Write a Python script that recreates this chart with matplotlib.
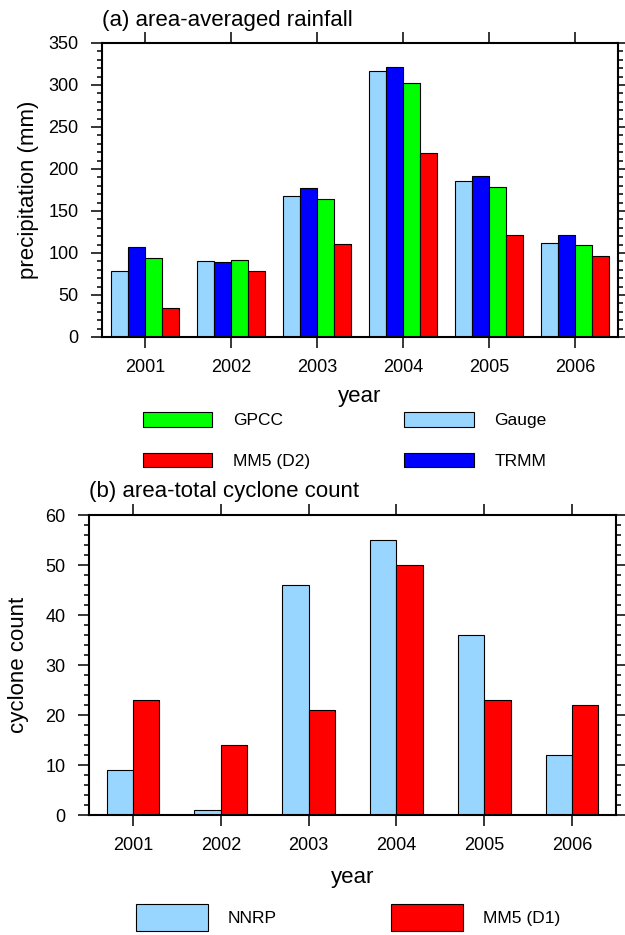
import numpy as np
import matplotlib
matplotlib.use("Agg")
import matplotlib.pyplot as plt
from matplotlib.ticker import MultipleLocator

plt.rcParams['font.family'] = ['Liberation Sans', 'DejaVu Sans']

years = ['2001', '2002', '2003', '2004', '2005', '2006']

# (a) area-averaged rainfall (mm)
gauge = [79, 90, 168, 317, 186, 112]
trmm = [107, 89, 177, 322, 192, 121]
gpcc = [94, 92, 164, 302, 178, 110]
mm5_d2 = [34, 78, 111, 219, 121, 96]

# (b) area-total cyclone count
nnrp = [9, 1, 46, 55, 36, 12]
mm5_d1 = [23, 14, 21, 50, 23, 22]

c_lblue = '#99D6FF'
c_blue = '#0000FF'
c_green = '#00FF00'
c_red = '#FF0000'

W, H = 625, 935
fig = plt.figure(figsize=(W / 100, H / 100), dpi=100)


def px_axes(l, t, r, b):
    return fig.add_axes([l / W, 1 - b / H, (r - l) / W, (b - t) / H])


def style_axes(ax, ymax, major, minor):
    ax.set_xlim(0.5, 6.5)
    ax.set_ylim(0, ymax)
    ax.set_xticks(np.arange(1, 7))
    ax.set_xticklabels(years)
    ax.yaxis.set_major_locator(MultipleLocator(major))
    ax.yaxis.set_minor_locator(MultipleLocator(minor))
    ax.tick_params(which='both', direction='out', top=True, right=True,
                   labelsize=13, width=1.1)
    ax.tick_params(which='major', length=8)
    ax.tick_params(which='minor', length=3.5)
    ax.tick_params(axis='x', which='minor', bottom=False, top=False)
    ax.tick_params(axis='x', pad=7.5)
    ax.tick_params(axis='y', pad=9)
    for s in ax.spines.values():
        s.set_linewidth(1.5)


x = np.arange(1, 7)
edge = dict(edgecolor='black', linewidth=0.8)

# ---- panel (a)
ax1 = px_axes(102, 43, 618, 337)
bw = 0.2
b_gauge = ax1.bar(x - 0.3, gauge, bw, color=c_lblue, label='Gauge', **edge)
b_trmm = ax1.bar(x - 0.1, trmm, bw, color=c_blue, label='TRMM', **edge)
b_gpcc = ax1.bar(x + 0.1, gpcc, bw, color=c_green, label='GPCC', **edge)
b_mm5 = ax1.bar(x + 0.3, mm5_d2, bw, color=c_red, label='MM5 (D2)', **edge)
style_axes(ax1, 350, 50, 10)
ax1.set_ylabel('precipitation (mm)', fontsize=16, va='center')
ax1.yaxis.set_label_coords(-(102 - 28) / 516, 0.5)
ax1.set_xlabel('year', fontsize=16, va='center')
ax1.xaxis.set_label_coords(0.5, -(397 - 337) / 294)
ax1.text(0, 1 + 22 / 294, '(a) area-averaged rainfall', transform=ax1.transAxes,
         fontsize=16, ha='left', va='center')

fig.legend([b_gpcc, b_mm5, b_gauge, b_trmm],
           ['GPCC', 'MM5 (D2)', 'Gauge', 'TRMM'],
           ncol=2, loc='upper left', bbox_to_anchor=(143 / W, 1 - 412 / H),
           frameon=False, fontsize=12.5, handlelength=4.0, handleheight=0.92,
           handletextpad=1.2, labelspacing=1.4, columnspacing=5.4,
           borderpad=0, borderaxespad=0)

# ---- panel (b)
ax2 = px_axes(89, 515, 616, 815)
bw2 = 0.3
b_nnrp = ax2.bar(x - 0.15, nnrp, bw2, color=c_lblue, label='NNRP', **edge)
b_d1 = ax2.bar(x + 0.15, mm5_d1, bw2, color=c_red, label='MM5 (D1)', **edge)
style_axes(ax2, 60, 10, 2)
ax2.set_ylabel('cyclone count', fontsize=16, va='center')
ax2.yaxis.set_label_coords(-(89 - 19) / 527, 0.5)
ax2.set_xlabel('year', fontsize=16, va='center')
ax2.xaxis.set_label_coords(0.5, -(877 - 815) / 300)
ax2.text(0, 1 + 24 / 300, '(b) area-total cyclone count', transform=ax2.transAxes,
         fontsize=16, ha='left', va='center')

fig.legend([b_nnrp, b_d1], ['NNRP', 'MM5 (D1)'],
           ncol=2, loc='upper left', bbox_to_anchor=(136 / W, 1 - 904 / H),
           frameon=False, fontsize=12.5, handlelength=4.14, handleheight=2.0,
           handletextpad=1.15, columnspacing=6.6,
           borderpad=0, borderaxespad=0)

fig.savefig('out.png', dpi=100)
